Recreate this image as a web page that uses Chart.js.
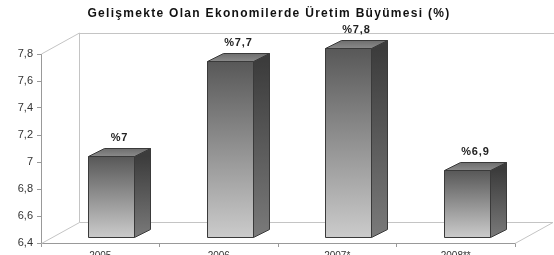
<!DOCTYPE html>
<html><head><meta charset="utf-8">
<script src="https://cdn.jsdelivr.net/npm/chart.js@4/dist/chart.umd.min.js"></script>
<style>html,body{margin:0;padding:0;background:#fff;overflow:hidden}</style>
</head><body>
<canvas id="c" width="554" height="255"></canvas>
<script>
const titleText = 'Gelişmekte Olan Ekonomilerde Üretim Büyümesi (%)';
const categories = ['2005', '2006', '2007*', '2008**'];
const growth = [7, 7.7, 7.8, 6.9];
const valueLabels = ['%7', '%7,7', '%7,8', '%6,9'];
const yTickLabels = ['6,4', '6,6', '6,8', '7', '7,2', '7,4', '7,6', '7,8'];

const WALL = {dx: 38, dy: -21};   // depth of the 3D box
const BAR_SHIFT = {dx: 11, dy: -6}; // bars stand inside the box
const BAR_DEPTH = {dx: 16, dy: -8};
const FONT = '"Liberation Sans", Arial, sans-serif';

const wallPlugin = {
  id: 'wall',
  beforeDatasetsDraw(chart) {
    const {ctx, chartArea: a, width} = chart;
    ctx.save();
    ctx.strokeStyle = '#c4c4c4';
    ctx.lineWidth = 1;
    const L = a.left + 0.5, R = a.right, T = a.top, B = a.bottom + 0.5;
    ctx.beginPath();
    ctx.moveTo(L + WALL.dx, T + WALL.dy + 0.5); ctx.lineTo(width, T + WALL.dy + 0.5);
    ctx.moveTo(L + WALL.dx, T + WALL.dy); ctx.lineTo(L + WALL.dx, B + WALL.dy);
    ctx.moveTo(L + WALL.dx, B + WALL.dy); ctx.lineTo(R + WALL.dx, B + WALL.dy);
    ctx.moveTo(L, T); ctx.lineTo(L + WALL.dx, T + WALL.dy);
    ctx.moveTo(L, B); ctx.lineTo(L + WALL.dx, B + WALL.dy);
    ctx.moveTo(R, B); ctx.lineTo(R + WALL.dx, B + WALL.dy);
    ctx.stroke();
    ctx.restore();
  }
};

const barsPlugin = {
  id: 'bars3d',
  afterDatasetsDraw(chart) {
    const {ctx} = chart;
    const meta = chart.getDatasetMeta(0);
    const basePx = chart.scales.y.getBasePixel();
    ctx.save();
    meta.data.forEach((bar, i) => {
      const {x, y, width} = bar.getProps(['x', 'y', 'width'], true);
      const l = Math.round(x - width / 2 + BAR_SHIFT.dx) + 0.5;
      const r = Math.round(x + width / 2 + BAR_SHIFT.dx) + 0.5;
      const t = Math.round(y + BAR_SHIFT.dy) + 0.5;
      const b = Math.round(basePx + BAR_SHIFT.dy) + 0.5;
      const ddx = BAR_DEPTH.dx, ddy = BAR_DEPTH.dy;
      ctx.strokeStyle = '#3a3a3a';
      ctx.lineWidth = 1;
      // side face
      let g = ctx.createLinearGradient(0, t, 0, b);
      g.addColorStop(0, '#3c3c3c'); g.addColorStop(1, '#7a7a7a');
      ctx.fillStyle = g;
      ctx.beginPath();
      ctx.moveTo(r, t); ctx.lineTo(r + ddx, t + ddy); ctx.lineTo(r + ddx, b + ddy); ctx.lineTo(r, b); ctx.closePath();
      ctx.fill(); ctx.stroke();
      // top face
      g = ctx.createLinearGradient(0, t + ddy, 0, t);
      g.addColorStop(0, '#6e6e6e'); g.addColorStop(1, '#8a8a8a');
      ctx.fillStyle = g;
      ctx.beginPath();
      ctx.moveTo(l, t); ctx.lineTo(l + ddx, t + ddy); ctx.lineTo(r + ddx, t + ddy); ctx.lineTo(r, t); ctx.closePath();
      ctx.fill(); ctx.stroke();
      // front face
      g = ctx.createLinearGradient(0, t, 0, b);
      g.addColorStop(0, '#585858'); g.addColorStop(1, '#cbcbcb');
      ctx.fillStyle = g;
      ctx.beginPath();
      ctx.rect(l, t, r - l, b - t);
      ctx.fill(); ctx.stroke();
      // value label
      ctx.fillStyle = '#222';
      ctx.font = 'bold 11px ' + FONT;
      ctx.letterSpacing = '0.9px';
      ctx.textAlign = 'center';
      ctx.textBaseline = 'middle';
      ctx.fillText(valueLabels[i], (l + r + ddx) / 2, t - 19);
    });
    ctx.restore();
  }
};

const titlePlugin = {
  id: 'titleText',
  afterDraw(chart) {
    const {ctx} = chart;
    ctx.save();
    ctx.fillStyle = '#111';
    ctx.font = 'bold 12px ' + FONT;
    ctx.letterSpacing = '1.3px';
    ctx.textAlign = 'center';
    ctx.textBaseline = 'middle';
    ctx.fillText(titleText, 269, 14);
    ctx.restore();
  }
};

new Chart(document.getElementById('c'), {
  type: 'bar',
  data: {
    labels: categories,
    datasets: [{
      data: growth,
      backgroundColor: 'rgba(0,0,0,0)',
      borderWidth: 0,
      barThickness: 46
    }]
  },
  options: {
    responsive: false,
    animation: false,
    devicePixelRatio: 1,
    events: [],
    layout: {padding: {top: 54, right: 39, left: 0, bottom: 0}},
    plugins: {legend: {display: false}, tooltip: {enabled: false}, title: {display: false}},
    scales: {
      x: {
        afterFit(s) { s.height = 12; },
        grid: {drawOnChartArea: false, tickLength: 4, color: '#999', offset: true},
        border: {color: '#999'},
        ticks: {padding: 3, color: '#333', font: {size: 10, family: FONT}, maxRotation: 0}
      },
      y: {
        min: 6.4, max: 7.8,
        afterFit(s) { s.width = 41; },
        grid: {drawOnChartArea: false, tickLength: 4, color: '#999'},
        border: {color: '#999'},
        ticks: {
          stepSize: 0.2, padding: 4, color: '#333',
          font: {size: 11, family: FONT},
          callback: (v, i) => yTickLabels[i]
        }
      }
    }
  },
  plugins: [wallPlugin, barsPlugin, titlePlugin]
});
</script>
</body></html>
